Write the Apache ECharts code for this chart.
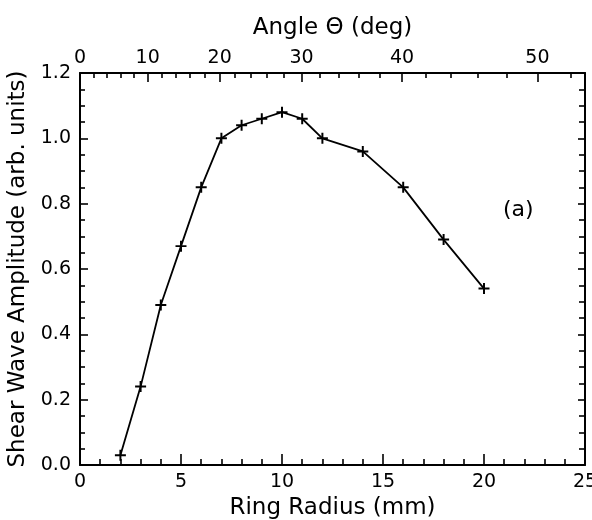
<!DOCTYPE html>
<html>
<head>
<meta charset="utf-8">
<script src="https://cdn.jsdelivr.net/npm/echarts@6/dist/echarts.min.js"></script>
<style>
  html, body { margin: 0; padding: 0; background: #fff; }
  #chart { width: 592px; height: 520px; }
</style>
</head>
<body>
<div id="chart"></div>
<script>
// ring radius (mm) and shear wave amplitude (arb. units)
var radius = [2, 3, 4, 5, 6, 7, 8, 9, 10, 11, 12, 14, 16, 18, 20];
var amplitude = [0.03, 0.24, 0.49, 0.67, 0.85, 1.0, 1.04, 1.06, 1.08, 1.06, 1.0, 0.96, 0.85, 0.69, 0.54];

// top axis: angle in degrees, theta = atan(r / depth)
var depth = 19;
var angleMajor = [0, 10, 20, 30, 40, 50];
var angleMinor = [2, 4, 6, 8, 12, 14, 16, 18, 22, 24, 26, 28, 32, 34, 36, 38, 42, 44, 46, 48, 52];

function angleToR(a) { return depth * Math.tan(a * Math.PI / 180); }
var majorPos = angleMajor.map(angleToR);
var minorPos = angleMinor.map(angleToR);

var font = 'DejaVu Sans';
var tickStyle = { color: '#000', width: 1.6 };
var lineAxis = { show: true, onZero: false, lineStyle: { color: '#000', width: 2 } };
var myChart = echarts.init(document.getElementById('chart'));

myChart.setOption({
  animation: false,
  backgroundColor: '#fff',
  textStyle: { fontFamily: font, color: '#000' },
  grid: { left: 80, right: 7, top: 73, bottom: 55, outerBoundsMode: 'none' },
  xAxis: [
    {
      type: 'value', position: 'bottom', min: 0, max: 25, interval: 5,
      name: 'Ring Radius (mm)', nameLocation: 'middle', nameGap: 29,
      nameTextStyle: { fontSize: 23, color: '#000', fontFamily: font },
      axisLine: lineAxis,
      axisTick: { show: true, inside: true, length: 11, lineStyle: tickStyle },
      minorTick: { show: true, splitNumber: 5, length: 6, lineStyle: tickStyle },
      axisLabel: { fontSize: 19, color: '#000', margin: 8 },
      splitLine: { show: false }
    },
    {
      type: 'value', position: 'top', min: 0, max: 25,
      name: 'Angle \u0398 (deg)', nameLocation: 'middle', nameGap: 33,
      nameTextStyle: { fontSize: 23, color: '#000', fontFamily: font },
      axisLine: lineAxis,
      axisTick: { show: true, inside: true, length: 9, customValues: majorPos, lineStyle: tickStyle },
      axisLabel: {
        fontSize: 19, color: '#000', margin: 5, customValues: majorPos,
        formatter: function (v) { return Math.round(Math.atan(v / depth) * 180 / Math.PI); }
      },
      splitLine: { show: false }
    },
    {
      type: 'value', position: 'top', min: 0, max: 25,
      axisLine: { show: false, onZero: false },
      axisTick: { show: true, inside: true, length: 5, customValues: minorPos, lineStyle: tickStyle },
      axisLabel: { show: false },
      splitLine: { show: false }
    }
  ],
  yAxis: [
    {
      type: 'value', position: 'left', min: 0, max: 1.2, interval: 0.2,
      name: 'Shear Wave Amplitude (arb. units)', nameLocation: 'middle', nameGap: 47,
      nameTextStyle: { fontSize: 23, color: '#000', fontFamily: font },
      axisLine: lineAxis,
      axisTick: { show: true, inside: true, length: 8, lineStyle: tickStyle },
      minorTick: { show: true, splitNumber: 4, length: 5, lineStyle: tickStyle },
      axisLabel: { fontSize: 19, color: '#000', margin: 9, formatter: function (v) { return v.toFixed(1); } },
      splitLine: { show: false }
    },
    {
      type: 'value', position: 'right', min: 0, max: 1.2, interval: 0.2,
      axisLine: lineAxis,
      axisTick: { show: true, inside: true, length: 7, lineStyle: tickStyle },
      minorTick: { show: true, splitNumber: 4, length: 6, lineStyle: tickStyle },
      axisLabel: { show: false },
      splitLine: { show: false }
    }
  ],
  graphic: [
    {
      type: 'text', left: 503, top: 199,
      style: { text: '(a)', font: '22px ' + font, fill: '#000' }
    }
  ],
  series: [
    {
      type: 'line',
      xAxisIndex: 0, yAxisIndex: 0,
      data: radius.map(function (r, i) { return [r, amplitude[i]]; }),
      symbol: 'path://M4.1,0H5.9V4.1H10V5.9H5.9V10H4.1V5.9H0V4.1H4.1Z',
      symbolSize: 11,
      showSymbol: true,
      itemStyle: { color: '#000' },
      lineStyle: { color: '#000', width: 1.8 }
    }
  ]
});
</script>
</body>
</html>
